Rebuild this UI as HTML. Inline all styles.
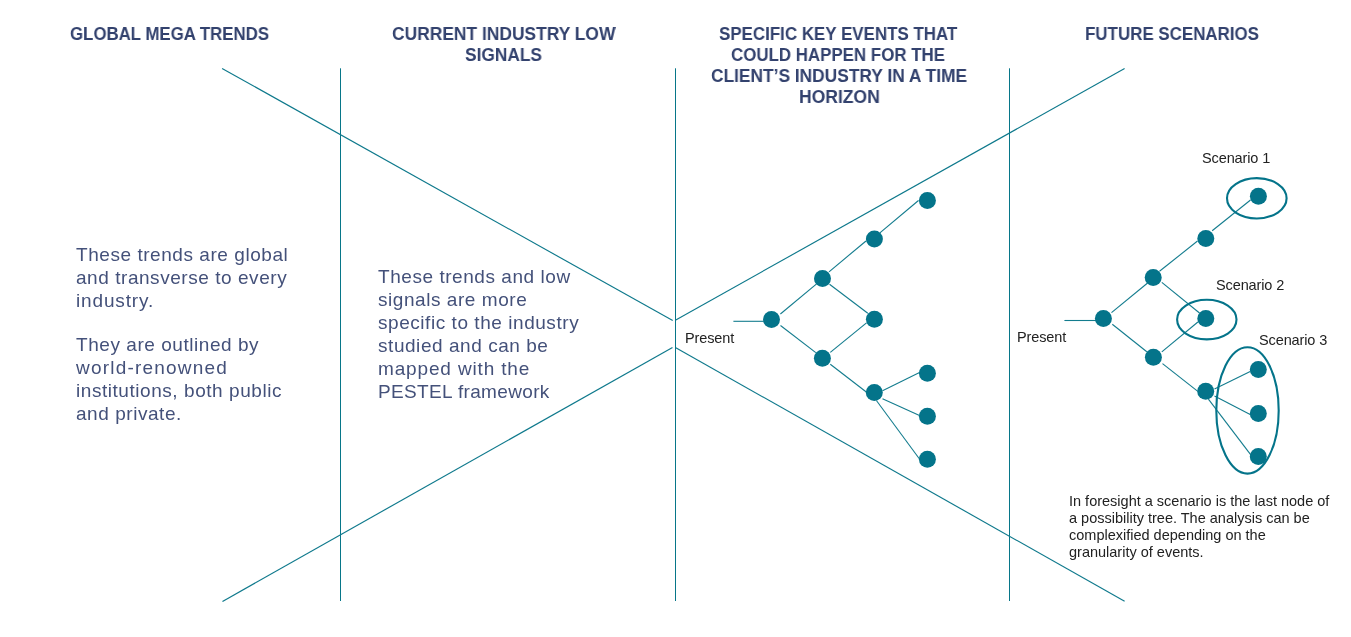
<!DOCTYPE html>
<html><head><meta charset="utf-8">
<style>
html,body{margin:0;padding:0;background:#fff;}
body{width:1351px;height:637px;position:relative;overflow:hidden;font-family:"Liberation Sans",sans-serif;}
.t{position:absolute;white-space:nowrap;will-change:transform;}
.h{font-weight:bold;font-size:19px;line-height:21px;color:#33426e;transform-origin:0 0;}
.p{font-size:19px;line-height:22.9px;letter-spacing:0.55px;color:#44517a;}
.s{font-size:14.5px;line-height:17px;color:#222;letter-spacing:-0.12px;}
.d{font-size:14.5px;line-height:16.9px;color:#222;}
svg{position:absolute;left:0;top:0;}
</style></head><body>
<svg width="1351" height="637" viewBox="0 0 1351 637">
<g stroke="#077689" stroke-width="1" fill="none">
<line x1="340.5" y1="68.3" x2="340.5" y2="601"/>
<line x1="675.5" y1="68.3" x2="675.5" y2="601"/>
<line x1="1009.5" y1="68.3" x2="1009.5" y2="601"/>
</g>
<g stroke="#0e798c" stroke-width="1.15" fill="none">
<line x1="222.1" y1="68.4" x2="672.7" y2="320.6"/>
<line x1="675.8" y1="320" x2="1124.6" y2="68.5"/>
<line x1="222.5" y1="601.4" x2="672.5" y2="347.4"/>
<line x1="675.8" y1="347.7" x2="1124.6" y2="601.3"/>
</g>
<g stroke="#137c8e" stroke-width="1.1" fill="none">
<line x1="733.4" y1="321.3" x2="764" y2="321.3"/>
<line x1="780.4" y1="314" x2="816.3" y2="284.2"/>
<line x1="780.5" y1="325.5" x2="815.8" y2="352.6"/>
<line x1="829" y1="271.8" x2="866" y2="241"/>
<line x1="829.5" y1="284.3" x2="867.8" y2="313.2"/>
<line x1="879.9" y1="232.8" x2="918.5" y2="200.5"/>
<line x1="830.3" y1="352.4" x2="866.5" y2="322.9"/>
<line x1="830.3" y1="364.3" x2="866.3" y2="392"/>
<line x1="882.5" y1="390.7" x2="919.5" y2="372.6"/>
<line x1="882.5" y1="398.8" x2="919.5" y2="415.6"/>
<line x1="876.4" y1="400.5" x2="919.5" y2="459"/>

<line x1="1064.4" y1="320.5" x2="1096" y2="320.5"/>
<line x1="1111.5" y1="312.6" x2="1147.3" y2="283.3"/>
<line x1="1112.3" y1="324.3" x2="1146.8" y2="351.8"/>
<line x1="1159.5" y1="271.3" x2="1197.5" y2="241"/>
<line x1="1161.8" y1="282.4" x2="1199.5" y2="313"/>
<line x1="1212.2" y1="230.8" x2="1250.5" y2="200"/>
<line x1="1161.8" y1="351.8" x2="1197.9" y2="322"/>
<line x1="1162.5" y1="363.6" x2="1197.5" y2="391.1"/>
<line x1="1214.5" y1="389" x2="1250.2" y2="371.6"/>
<line x1="1214.5" y1="396" x2="1250.2" y2="414.5"/>
<line x1="1208.4" y1="399.2" x2="1251.2" y2="455.3"/>
</g>
<g fill="#04748a">
<circle cx="771.5" cy="319.4" r="8.5"/>
<circle cx="822.5" cy="278.4" r="8.5"/>
<circle cx="822.4" cy="358.3" r="8.5"/>
<circle cx="874.4" cy="239.1" r="8.5"/>
<circle cx="874.4" cy="319.2" r="8.5"/>
<circle cx="874.3" cy="392.4" r="8.5"/>
<circle cx="927.4" cy="200.4" r="8.5"/>
<circle cx="927.4" cy="373.3" r="8.5"/>
<circle cx="927.4" cy="416.2" r="8.5"/>
<circle cx="927.4" cy="459.3" r="8.5"/>

<circle cx="1103.4" cy="318.4" r="8.5"/>
<circle cx="1153.2" cy="277.4" r="8.5"/>
<circle cx="1153.4" cy="357.3" r="8.5"/>
<circle cx="1205.8" cy="238.5" r="8.5"/>
<circle cx="1205.8" cy="318.6" r="8.5"/>
<circle cx="1205.7" cy="391.3" r="8.5"/>
<circle cx="1258.4" cy="196.3" r="8.5"/>
<circle cx="1258.3" cy="369.4" r="8.5"/>
<circle cx="1258.3" cy="413.5" r="8.5"/>
<circle cx="1258.3" cy="456.4" r="8.5"/>
</g>
<g stroke="#04748a" stroke-width="2.1" fill="none">
<ellipse cx="1256.8" cy="198.3" rx="29.8" ry="20.15"/>
<ellipse cx="1206.8" cy="319.6" rx="29.7" ry="19.8"/>
<ellipse cx="1247.5" cy="410.4" rx="31.2" ry="63.2"/>
</g>
</svg>

<div class="t h" id="h1" style="left:69.7px;top:22.9px;transform:scaleX(0.885)">GLOBAL MEGA TRENDS</div>
<div class="t h" id="h2a" style="left:392px;top:22.9px;transform:scaleX(0.916)">CURRENT INDUSTRY LOW</div>
<div class="t h" id="h2b" style="left:465.4px;top:44.1px;transform:scaleX(0.911)">SIGNALS</div>
<div class="t h" id="h3a" style="left:719.1px;top:22.9px;transform:scaleX(0.891)">SPECIFIC KEY EVENTS THAT</div>
<div class="t h" id="h3b" style="left:731.3px;top:43.9px;transform:scaleX(0.889)">COULD HAPPEN FOR THE</div>
<div class="t h" id="h3c" style="left:711.1px;top:64.9px;transform:scaleX(0.913)">CLIENT&#8217;S INDUSTRY IN A TIME</div>
<div class="t h" id="h3d" style="left:798.5px;top:85.9px;transform:scaleX(0.922)">HORIZON</div>
<div class="t h" id="h4" style="left:1085px;top:22.9px;transform:scaleX(0.891)">FUTURE SCENARIOS</div>

<div class="t p" id="p1" style="left:76px;top:244px;">These trends are global<br>and transverse to every<br><span style="letter-spacing:0.85px">industry.</span><div style="height:21.5px"></div>They are outlined by<br><span style="letter-spacing:1.2px">world-renowned</span><br>institutions, both public<br>and private.</div>
<div class="t p" id="p2" style="left:378px;top:265.5px;">These trends and low<br>signals are more<br>specific to the industry<br>studied and can be<br><span style="letter-spacing:0.85px">mapped with the</span><br><span style="letter-spacing:0.35px">PESTEL framework</span></div>

<div class="t s" id="pr1" style="left:685px;top:330px;">Present</div>
<div class="t s" id="pr2" style="left:1017px;top:329px;">Present</div>
<div class="t s" id="sc1" style="left:1202px;top:150px;">Scenario 1</div>
<div class="t s" id="sc2" style="left:1216px;top:277px;">Scenario 2</div>
<div class="t s" id="sc3" style="left:1259px;top:332px;">Scenario 3</div>
<div class="t d" id="d1" style="left:1069px;top:492.6px;">In foresight a scenario is the last node of<br>a possibility tree. The analysis can be<br>complexified depending on the<br>granularity of events.</div>
</body></html>
